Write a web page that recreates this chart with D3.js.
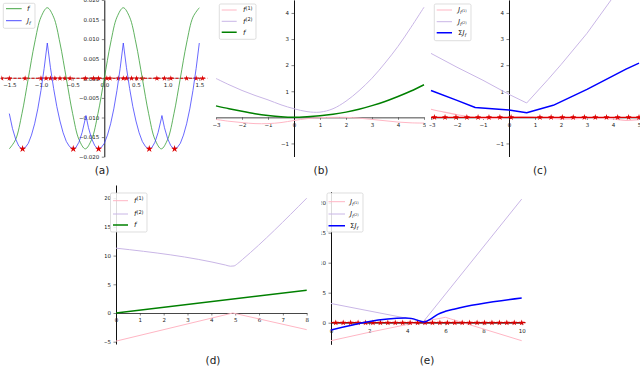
<!DOCTYPE html>
<html><head><meta charset="utf-8">
<script src="https://cdn.jsdelivr.net/npm/d3@7"></script>
<style>body{margin:0;background:#fff}svg{display:block}text{font-family:"DejaVu Sans",sans-serif}</style>
</head><body><svg id="c" width="640" height="368"></svg>
<script>
// ---------- DATA ----------
// (a)
const aFX = [-1.5,-1.4,-1.3,-1.2,-1.1,-1.0,-0.9,-0.8,-0.7,-0.6,-0.5,-0.4,-0.3,-0.2,-0.1,0,0.1,0.2,0.3,0.4,0.5,0.6,0.7,0.8,0.9,1.0,1.1,1.2,1.3,1.4,1.5];
const aF  = [-0.018,-0.0156,-0.009,0,0.009,0.0156,0.018,0.0156,0.009,0,-0.009,-0.0156,-0.018,-0.0156,-0.009,0,0.009,0.0156,0.018,0.0156,0.009,0,-0.009,-0.0156,-0.018,-0.0156,-0.009,0,0.009,0.0156,0.018];
const aJX = [-1.5,-1.45,-1.4,-1.35,-1.3,-1.25,-1.2,-1.15,-1.1,-1.05,-1.0,-0.95,-0.9,-0.85,-0.8,-0.75,-0.7,-0.65,-0.6,-0.55,-0.5,-0.45,-0.4,-0.35,-0.3,-0.29,-0.25,-0.2,-0.15,-0.1,-0.05,0,0.05,0.1,0.15,0.2,0.25,0.3,0.35,0.4,0.45,0.5,0.55,0.6,0.65,0.7,0.75,0.8,0.85,0.9,0.91,0.95,1.0,1.05,1.1,1.15,1.2,1.25,1.3,1.35,1.4,1.45,1.5];
const aJ  = [-0.0090,-0.0128,-0.0155,-0.0173,-0.0180,
  -0.0177,-0.0166,-0.0145,-0.0116,-0.0078,-0.0031,0.0025,0.0090,
  0.0027,-0.0026,-0.0072,-0.0109,-0.0139,-0.0161,-0.0174,-0.0180,
  -0.0177,-0.0163,-0.0138,-0.0103,-0.0095,
  -0.0126,-0.0154,-0.0172,-0.0180,
  -0.0177,-0.0166,-0.0145,-0.0116,-0.0078,-0.0031,0.0025,0.0090,
  0.0027,-0.0026,-0.0072,-0.0109,-0.0139,-0.0161,-0.0174,-0.0180,
  -0.0177,-0.0163,-0.0138,-0.0103,-0.0095,
  -0.0126,-0.0154,-0.0172,-0.0180,
  -0.0177,-0.0166,-0.0145,-0.0116,-0.0078,-0.0031,0.0025,0.0090];
const aMinX = [-1.29,-0.49,-0.09,0.71,1.11];
const aMinY = [-0.018,-0.018,-0.018,-0.018,-0.018];
const aZeroMarkX = [-1.62,-1.5,-1.25,-1.0,-0.92,-0.85,-0.78,-0.7,-0.62,-0.54,-0.3,-0.17,-0.09,0.04,0.09,0.22,0.3,0.35,0.43,0.51,0.6,0.83,0.95,1.05,1.3,1.45,1.55];
const aXTicks = [-1.5,-1.0,-0.5,0,0.5,1.0,1.5];
const aYTicks = [-0.02,-0.015,-0.01,-0.005,0,0.005,0.01,0.015,0.02];
// (b)
const bX  = [-3,-2.5,-2,-1.5,-1,-0.5,0,0.5,1,1.5,2,2.5,3,3.5,4,4.5,5];
const bF1 = [-0.08,-0.15,-0.2,-0.24,-0.24,-0.2,-0.12,-0.05,-0.01,0,0,-0.03,-0.08,-0.13,-0.18,-0.21,-0.22];
const bF2 = [1.49,1.25,1.03,0.84,0.67,0.48,0.33,0.22,0.2,0.33,0.62,1.02,1.5,2.08,2.72,3.45,4.22];
const bF  = [0.44,0.33,0.23,0.14,0.07,0.02,0,0.02,0.06,0.12,0.2,0.31,0.45,0.61,0.8,1.01,1.25];
const bcXTicks = [-3,-2,-1,0,1,2,3,4,5];
const bcYTicks = [-1,1,2,3,4];
// (c)
const cJ1X = [-3,-2.5,-2,-1.5,-1,-0.5,0,0.5,1,1.5,2,2.5,3,3.5,4,4.5,5];
const cJ1  = [0.31,0.2,0.1,0.02,-0.04,-0.04,0,0.02,0,-0.03,-0.06,-0.05,-0.02,-0.03,-0.06,-0.12,-0.09];
const cJ2X = [-3,-2,-1,0,0.68,1.5,2,3,4,5];
const cJ2  = [2.45,1.92,1.42,0.88,0.55,1.45,2.02,3.22,4.6,5.8];
const cSX  = [-3,-2,-1.3,0,0.68,1.7,3.0,4.5,5];
const cS   = [1.03,0.65,0.38,0.28,0.18,0.46,1.07,1.85,2.08];
const cMarkX = [-2.87,-2.46,-2.04,-1.62,-1.19,-0.77,-0.35,0.08,1.19,1.62,2.05,2.47,2.9,3.32,3.75,4.18,4.6,5.0];
// (d)
const dF1X = [0,4.9,8];
const dF1  = [-4.9,0,-2.9];
const dF2X = [0,4.6,4.8,4.95,5.1,5.3,8];
const dF2  = [11.3,8.35,8.15,8.2,8.6,9.3,20.0];
const dFX  = [0,8];
const dF   = [0,3.95];
const dXTicks = [0,1,2,3,4,5,6,7,8];
const dYTicks = [-5,0,5,10,15,20];
// (e)
const eJ1X = [0,2,4,5,6,10];
const eJ1  = [-3.0,-1.6,-0.3,0.3,0.9,-3.0];
const eJ2X = [0,4.85,10];
const eJ2  = [3.2,0.2,20.6];
const eSX  = [0,3.9,4.2,4.9,5.2,5.6,6.0,6.5,10];
const eS   = [-1.2,0.78,0.72,0.12,0.55,1.4,1.9,2.3,4.1];
const eMarkX = [0.25,0.64,1.03,1.42,1.81,2.2,2.59,2.98,3.37,3.76,4.15,4.54,4.93,5.32,5.71,6.1,6.49,6.88,7.27,7.66,8.05,8.44,8.83,9.22,9.61,10.0];
const eXTicks = [0,2,4,6,8,10];
const eYTicks = [0,5,10,15,20];

// ---------- DRAW ----------
const svg = d3.select("#c");
const defs = svg.append("defs");
let clipN = 0;
function clip(x,y,w,h){const id="cl"+(clipN++);defs.append("clipPath").attr("id",id).append("rect").attr("x",x).attr("y",y).attr("width",w).attr("height",h);return `url(#${id})`;}

function panel(o){
  const g = svg.append("g").attr("clip-path", clip(...o.clip));
  const x = d3.scaleLinear().domain(o.xd).range(o.xr);
  const y = d3.scaleLinear().domain(o.yd).range(o.yr);
  const fs = 5.5;
  // x axis at y=0
  const xa = g.append("g").attr("transform",`translate(0,${y(0)})`)
    .call(d3.axisBottom(x).tickValues(o.xt).tickFormat(o.xf).tickSize(2.5).tickSizeOuter(0).tickPadding(o.xpad));
  xa.select(".domain").attr("stroke",o.hcol||"#333").attr("stroke-width",0.9);
  if(o.hx){xa.select(".domain").attr("d",`M${o.hx[0]},0H${o.hx[1]}`);}
  xa.selectAll(".tick line").attr("stroke","#333").attr("stroke-width",0.6);
  xa.selectAll("text").attr("font-size",fs).attr("fill","#222");
  const ya = g.append("g").attr("transform",`translate(${x(0)},0)`)
    .call(d3.axisLeft(y).tickValues(o.yt).tickFormat(o.yf).tickSize(2.5).tickSizeOuter(0).tickPadding(2.5));
  ya.select(".domain").attr("stroke","#111").attr("stroke-width",1);
  ya.selectAll(".tick line").attr("stroke","#333").attr("stroke-width",0.6);
  ya.selectAll("text").attr("font-size",fs).attr("fill","#222");
  const pg = g.append("g").attr("clip-path", clip(o.xr[0]-8, o.yr[1], o.xr[1]-o.xr[0]+16, o.yr[0]-o.yr[1]));
  return {g,pg,x,y};
}
function line(P, xs, ys, col, w, curve, dash, op){
  const pts = xs.map((v,i)=>[v,ys[i]]);
  const gen = d3.line().x(d=>P.x(d[0])).y(d=>P.y(d[1])).curve(curve||d3.curveLinear);
  P.pg.append("path").attr("d",gen(pts)).attr("fill","none").attr("stroke",col).attr("stroke-width",w)
    .attr("stroke-dasharray",dash||null).attr("opacity",op==null?1:op).attr("stroke-linejoin","round");
}
function stars(P, xs, ys, col, size){
  const sym = d3.symbol().type(d3.symbolStar).size(size);
  P.pg.selectAll(null).data(xs.map((v,i)=>[v,ys[i]])).enter().append("path")
    .attr("d",sym).attr("transform",d=>`translate(${P.x(d[0])},${P.y(d[1])})`).attr("fill",col);
}
function rich(t, parts){
  let cur=0;
  parts.forEach(p=>{const off=p.off||0;
    t.append("tspan").attr("dy",off-cur).attr("font-size",p.fs||7).attr("font-style",p.it?"italic":"normal").text(p.t);
    cur=off;});
}
function legend(g, x0, y0, w, h, items, lx0, lx1, tx, ys){
  g.append("rect").attr("x",x0).attr("y",y0).attr("width",w).attr("height",h).attr("rx",1.5)
    .attr("fill","#fff").attr("fill-opacity",0.85).attr("stroke","#d0d0d0").attr("stroke-width",0.7);
  items.forEach((it,i)=>{
    g.append("line").attr("x1",lx0).attr("x2",lx1).attr("y1",ys[i]).attr("y2",ys[i]).attr("stroke",it.c).attr("stroke-width",it.w).attr("opacity",it.op==null?1:it.op);
    const t = g.append("text").attr("x",tx).attr("y",ys[i]+2.3).attr("font-family","'DejaVu Serif',serif").attr("fill","#222");
    rich(t, it.label);
  });
}
const f3 = d3.format(".3f"), f1 = d3.format(".1f"), fi = d3.format("d");
const PINK="#ffb6c4", LAV="#c9b6e6", GREEN_D="#008000", BLUE="#0000ff", RED="#dd0000";
const Lf  = [{t:"f",it:true}];
const Lf1 = [{t:"f",it:true},{t:"(1)",fs:5,off:-2.6}];
const Lf2 = [{t:"f",it:true},{t:"(2)",fs:5,off:-2.6}];
const LJf = [{t:"J",it:true},{t:"f",it:true,fs:5,off:1.5}];
const LJ1 = [{t:"J",it:true},{t:"f",it:true,fs:4.5,off:1.5},{t:"(1)",fs:3.5,off:-0.5}];
const LJ2 = [{t:"J",it:true},{t:"f",it:true,fs:4.5,off:1.5},{t:"(2)",fs:3.5,off:-0.5}];
const LS  = [{t:"Σ"},{t:"J",it:true},{t:"f",it:true,fs:5,off:1.5}];

// (a)
const A = panel({clip:[0,0,210,160], xd:[-1.5,1.5], xr:[9.3,199.3], yd:[-0.02,0.02], yr:[156.7,-0.1],
  xt:aXTicks, xf:f1, yt:aYTicks, yf:f3, xpad:2, hcol:"#999", hx:[-6,200]});
A.pg.append("line").attr("x1",0).attr("x2",210).attr("y1",A.y(0)).attr("y2",A.y(0)).attr("stroke",RED).attr("stroke-width",1.1).attr("stroke-dasharray","3,1.5");
stars(A, aZeroMarkX, aZeroMarkX.map(()=>0), RED, 10);
line(A, aFX, aF, "#2e9a2e", 0.9, d3.curveCatmullRom, null, 0.85);
line(A, aJX, aJ, "#3a3aff", 0.9, d3.curveLinear, null, 0.85);
stars(A, aMinX, aMinY, RED, 16);
legend(A.g, 3.3, 3.3, 31.7, 25, [{c:"#2e9a2e",w:0.9,label:Lf},{c:"#3a3aff",w:0.9,label:LJf}], 6, 21.7, 27, [8.7,20.7]);

// (b)
const B = panel({clip:[212.5,0,213.5,160], xd:[-3,5], xr:[216,424], yd:[-1.5,4.5], yr:[156.5,-0.1],
  xt:bcXTicks, xf:fi, yt:bcYTicks, yf:fi, xpad:3.5});
line(B, bX, bF1, PINK, 1, d3.curveCatmullRom);
line(B, bX, bF2, LAV, 1, d3.curveCatmullRom);
line(B, bX, bF, GREEN_D, 1.5, d3.curveCatmullRom);
legend(B.g, 219.3, 4, 36.7, 35.3, [{c:PINK,w:1,label:Lf1},{c:LAV,w:1,label:Lf2},{c:GREEN_D,w:1.5,label:Lf}], 221.7, 236.7, 243, [10,21.3,32.3]);

// (c)
const C = panel({clip:[429.5,0,210.5,160], xd:[-3,5], xr:[431,639], yd:[-1.5,4.5], yr:[156.5,-0.1],
  xt:bcXTicks, xf:fi, yt:bcYTicks, yf:fi, xpad:3.5});
line(C, cJ1X, cJ1, PINK, 1.2, d3.curveCatmullRom);
line(C, cJ2X, cJ2, LAV, 1);
line(C, [-3,5], [0,0], RED, 1.1);
stars(C, cMarkX, cMarkX.map(()=>0), RED, 12);
line(C, cSX, cS, BLUE, 1.5);
legend(C.g, 434.3, 4, 36.7, 36.7, [{c:PINK,w:1.2,label:LJ1},{c:LAV,w:1,label:LJ2},{c:BLUE,w:1.5,label:LS}], 436.7, 452, 458, [10,21.7,32.7]);

// (d)
const D = panel({clip:[104.5,185,210,160], xd:[0,8], xr:[116,306.7], yd:[-5.4,22.3], yr:[344,185],
  xt:dXTicks, xf:fi, yt:dYTicks, yf:fi, xpad:3});
line(D, dF1X, dF1, PINK, 1);
line(D, dF2X, dF2, LAV, 1, d3.curveMonotoneX);
line(D, dFX, dF, GREEN_D, 1.5);
legend(D.g, 110.5, 193, 36.5, 39, [{c:PINK,w:1,label:Lf1},{c:LAV,w:1,label:Lf2},{c:GREEN_D,w:1.5,label:Lf}], 113, 128, 134, [200.7,214,225]);

// (e)
const E = panel({clip:[321.5,185,220,160], xd:[0,10], xr:[331,521.7], yd:[-3.6,21.85], yr:[344.3,191.6],
  xt:eXTicks, xf:fi, yt:eYTicks, yf:fi, xpad:3.5});
line(E, eJ1X, eJ1, PINK, 1);
line(E, eJ2X, eJ2, LAV, 1);
line(E, [0,10.2], [0,0], "#c00000", 1.2);
stars(E, eMarkX, eMarkX.map(()=>0), RED, 12);
line(E, eSX, eS, BLUE, 1.5, d3.curveMonotoneX);
legend(E.g, 327, 193, 36, 39, [{c:PINK,w:1,label:LJ1},{c:LAV,w:1,label:LJ2},{c:BLUE,w:1.5,label:LS}], 328.5, 345, 350, [201.7,214,225.7]);

// captions
const caps = [["(a)",102,174],["(b)",321,174],["(c)",540,174],["(d)",213,364],["(e)",427,364]];
svg.selectAll(null).data(caps).enter().append("text").attr("x",d=>d[1]).attr("y",d=>d[2])
  .attr("text-anchor","middle").attr("font-family","'Liberation Serif','DejaVu Serif',serif").attr("font-size",10.5).attr("fill","#222").text(d=>d[0]);
</script></body></html>
